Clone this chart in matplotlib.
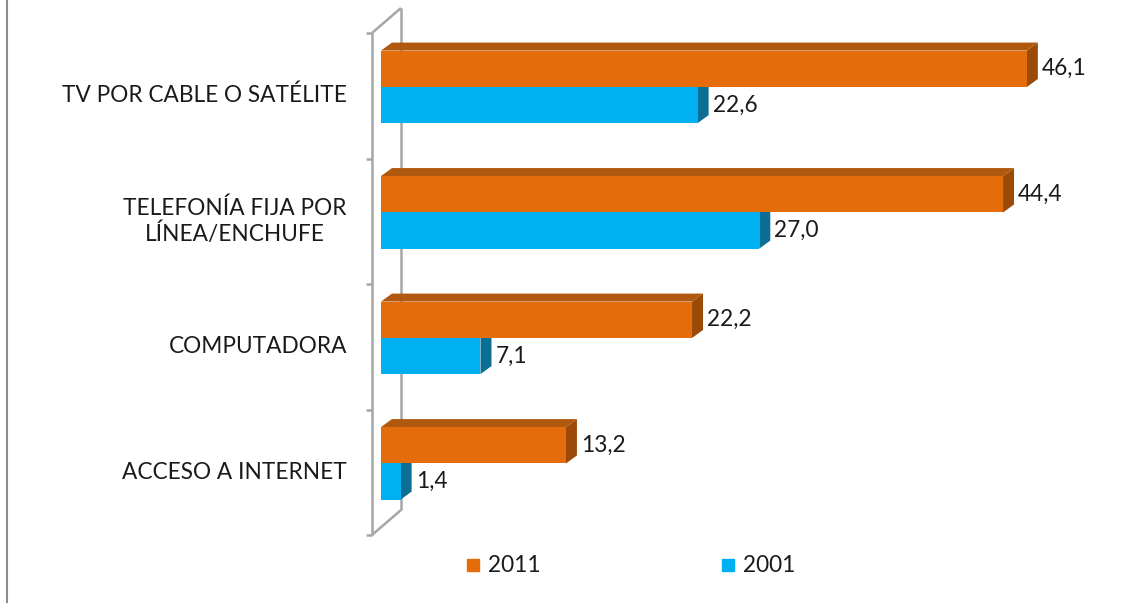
import matplotlib
matplotlib.use("Agg")
import matplotlib.pyplot as plt
from matplotlib.patches import Polygon
from matplotlib.lines import Line2D

categories = ["ACCESO A INTERNET", "COMPUTADORA", "TELEFONÍA FIJA POR\nLÍNEA/ENCHUFE", "TV POR CABLE O SATÉLITE"]
series_names = ["2011", "2001"]
values_2011 = [13.2, 22.2, 44.4, 46.1]
values_2001 = [1.4, 7.1, 27.0, 22.6]

C_ORANGE = "#E46C0A"
C_ORANGE_TOP = "#B0580E"
C_ORANGE_SIDE = "#9C4A08"
C_BLUE = "#00B0F0"
C_BLUE_TOP = "#0A86B2"
C_BLUE_SIDE = "#0B6E95"

FONT = "Lato"
FS = 16.3

W, H = 1128, 603
fig = plt.figure(figsize=(W / 100, H / 100), dpi=100)

# axes: value 0 at pixel x=381, 14.01 px per unit; bands from y=33 to y=535
x0_px, ppu = 381, 14.01
xmax = 50
top_px, bot_px = 33, 535
ax = fig.add_axes([x0_px / W, (H - bot_px) / H, xmax * ppu / W, (bot_px - top_px) / H])
ax.set_xlim(0, xmax)
ax.set_ylim(-0.5, 3.5)
ax.axis("off")

ppu_y = (bot_px - top_px) / 4.0
dx = 11 / ppu          # depth offset of bars (data units)
dy = 8 / ppu_y
bh = 0.29
off_orange = 0.215
off_blue = -0.073


def bar3d(y, v, front, top, side):
    y0, y1 = y - bh / 2, y + bh / 2
    ax.add_patch(Polygon([(v, y0), (v + dx, y0 + dy), (v + dx, y1 + dy), (v, y1)],
                         closed=True, facecolor=side, edgecolor="none", clip_on=False, zorder=2))
    ax.add_patch(Polygon([(0, y1), (dx, y1 + dy), (v + dx, y1 + dy), (v, y1)],
                         closed=True, facecolor=top, edgecolor="none", clip_on=False, zorder=2))
    ax.barh([y], [v], height=bh, left=0, color=front, edgecolor="none", zorder=3, clip_on=False)


# back wall
wx_front = -9 / ppu
wx_back = 20 / ppu
wdy = 25 / ppu_y
wall_kw = dict(color="#A6A6A6", lw=1.8, clip_on=False, zorder=1, solid_capstyle="butt")
ax.plot([wx_front, wx_front], [-0.5, 3.5], **wall_kw)
ax.plot([wx_back, wx_back], [-0.5 + wdy, 3.5 + wdy], **wall_kw)
ax.plot([wx_front, wx_back], [3.5, 3.5 + wdy], **wall_kw)
ax.plot([wx_front, wx_back], [-0.5, -0.5 + wdy], **wall_kw)
for i in range(len(categories) + 1):
    ax.plot([wx_front - 6 / ppu, wx_front], [i - 0.5, i - 0.5], **wall_kw)

for i, cat in enumerate(categories):
    yb = i + off_blue
    yo = i + off_orange
    bar3d(yb, values_2001[i], C_BLUE, C_BLUE_TOP, C_BLUE_SIDE)
    bar3d(yo, values_2011[i], C_ORANGE, C_ORANGE_TOP, C_ORANGE_SIDE)
    for y, v in ((yo, values_2011[i]), (yb, values_2001[i])):
        ax.text(v + dx + 4 / ppu, y, f"{v:.1f}".replace(".", ","), ha="left", va="center",
                fontsize=FS, family=FONT, color="#1a1a1a")
    ax.text(-(x0_px - 347) / ppu, i, cat, ha="right", va="center", multialignment="center",
            fontsize=FS, family=FONT, color="#1a1a1a", linespacing=1.15)

# outer frame left border
fig.add_artist(Line2D([6.5 / W, 6.5 / W], [0, 1], color="#8C8C8C", lw=1.5))

handles = [Line2D([], [], marker="s", linestyle="none", markersize=8.6, color=C_ORANGE),
           Line2D([], [], marker="s", linestyle="none", markersize=8.6, color=C_BLUE)]
fig.legend(handles, series_names, loc="center", bbox_to_anchor=(631 / W, 1 - 566 / H),
           ncol=2, frameon=False, handlelength=0.6, handletextpad=0.35, columnspacing=8.0,
           prop={"family": FONT, "size": FS}, labelcolor="#1a1a1a")

fig.savefig("out.png", dpi=100)
